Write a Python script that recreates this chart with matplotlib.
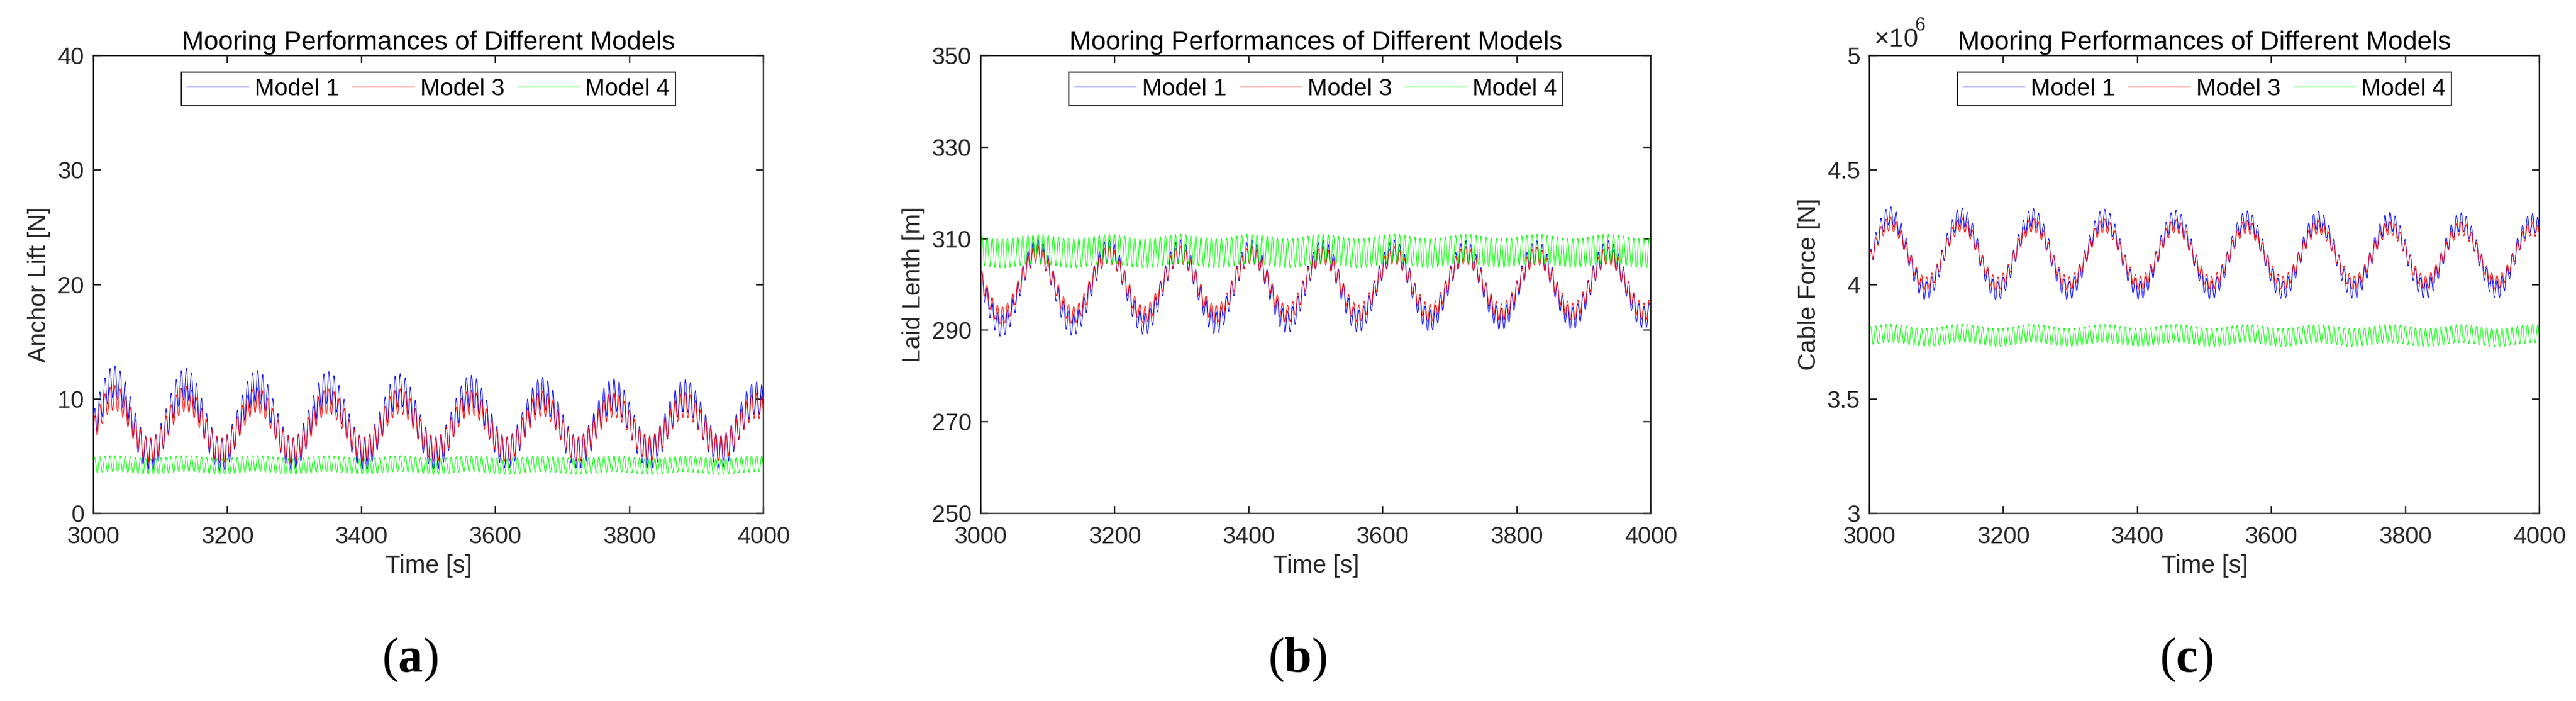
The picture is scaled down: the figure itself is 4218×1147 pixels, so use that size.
import numpy as np
import matplotlib.pyplot as plt
from matplotlib.ticker import FuncFormatter

plt.rcParams['font.family'] = ['Liberation Sans', 'DejaVu Sans']
plt.rcParams['mathtext.fontset'] = 'custom'
plt.rcParams['mathtext.bf'] = 'Liberation Serif:bold'

# ---- values ----
models = ['Model 1', 'Model 3', 'Model 4']
colors = ['#0000ff', '#ff0000', '#00ff00']

t_start, t_end = 3000, 4000
slow_period = 106.5          # s, long-period motion
first_peak = 3031.0          # s, first anchor-lift / cable-force crest
fast_period = 7.6            # s, wave-frequency oscillation

# (a) Anchor lift [N]: slow crests / troughs per cycle, fast amplitude
a_m1_peaks = [11.5, 11.3, 11.1, 11.0, 10.8, 10.7, 10.5, 10.4, 10.3, 10.1]
a_m1_troughs = [5.0, 5.1, 5.1, 5.2, 5.2, 5.2, 5.3, 5.3, 5.3, 5.4, 5.4]
a_m1_fast = 1.4
a_m3_peaks = [10.1, 10.0, 9.9, 9.8, 9.8, 9.7, 9.6, 9.5, 9.5, 9.4]
a_m3_troughs = [5.4, 5.5, 5.5, 5.5, 5.6, 5.6, 5.6, 5.6, 5.7, 5.7, 5.7]
a_m3_fast = 1.1
a_m4_peaks = [4.35, 4.35, 4.35, 4.34, 4.34, 4.34, 4.33, 4.33, 4.33, 4.33]
a_m4_troughs = [4.1, 4.1, 4.1, 4.1, 4.1, 4.1, 4.1, 4.1, 4.1, 4.1, 4.1]
a_m4_fast = 0.7

# (b) Laid length [m]: crests occur at anchor-lift troughs
b_m1_peaks = [307.5, 307.5, 307.4, 307.4, 307.3, 307.3, 307.3, 307.2, 307.2, 307.2, 307.1]
b_m1_troughs = [291.0, 291.2, 291.4, 291.6, 291.8, 292.0, 292.2, 292.4, 292.6, 292.8]
b_m1_fast = 2.4
b_m3_peaks = [306.6, 306.6, 306.5, 306.5, 306.5, 306.4, 306.4, 306.4, 306.3, 306.3, 306.3]
b_m3_troughs = [293.2, 293.3, 293.4, 293.5, 293.6, 293.7, 293.8, 293.9, 294.0, 294.1]
b_m3_fast = 1.9
b_m4_peaks = [307.8, 307.8, 307.8, 307.8, 307.8, 307.8, 307.8, 307.8, 307.8, 307.8, 307.8]
b_m4_troughs = [306.8, 306.8, 306.8, 306.8, 306.8, 306.8, 306.8, 306.8, 306.8, 306.8]
b_m4_fast = 3.2

# (c) Cable force [N]
c_m1_peaks = [4.300e6, 4.296e6, 4.292e6, 4.290e6, 4.286e6, 4.283e6, 4.280e6, 4.277e6, 4.274e6, 4.270e6]
c_m1_troughs = [3.975e6, 3.972e6, 3.972e6, 3.973e6, 3.974e6, 3.975e6, 3.976e6, 3.977e6, 3.978e6, 3.979e6, 3.980e6]
c_m1_fast = 0.040e6
c_m3_peaks = [4.265e6, 4.262e6, 4.259e6, 4.257e6, 4.255e6, 4.252e6, 4.250e6, 4.248e6, 4.246e6, 4.244e6]
c_m3_troughs = [4.005e6, 4.003e6, 4.003e6, 4.004e6, 4.005e6, 4.006e6, 4.007e6, 4.008e6, 4.009e6, 4.010e6, 4.010e6]
c_m3_fast = 0.030e6
c_m4_peaks = [3.787e6, 3.787e6, 3.786e6, 3.786e6, 3.786e6, 3.785e6, 3.785e6, 3.785e6, 3.785e6, 3.785e6]
c_m4_troughs = [3.768e6, 3.768e6, 3.768e6, 3.768e6, 3.768e6, 3.768e6, 3.768e6, 3.768e6, 3.768e6, 3.768e6, 3.768e6]
c_m4_fast = 0.040e6

titles = 'Mooring Performances of Different Models'
ylabels = ['Anchor Lift [N]', 'Laid Lenth [m]', 'Cable Force [N]']
yticks = [[0, 10, 20, 30, 40], [250, 270, 290, 310, 330, 350],
          [3e6, 3.5e6, 4e6, 4.5e6, 5e6]]
xticks = [3000, 3200, 3400, 3600, 3800, 4000]
panel_tags = ['a', 'b', 'c']

# ---- time series assembled from the read crest/trough values ----
t = np.arange(t_start, t_end + 0.25, 0.5)
n_cyc = len(a_m1_peaks)
t_ext = first_peak - slow_period / 2 + np.arange(2 * n_cyc + 1) * slow_period / 2


def interleave(lows, highs):
    out = []
    for i in range(len(lows) + len(highs)):
        out.append(lows[i // 2] if i % 2 == 0 else highs[i // 2])
    return np.array(out, dtype=float)


def series(ext_vals, fast_amp):
    idx = np.clip(np.searchsorted(t_ext, t) - 1, 0, len(t_ext) - 2)
    frac = (t - t_ext[idx]) / (t_ext[idx + 1] - t_ext[idx])
    v0, v1 = ext_vals[idx], ext_vals[idx + 1]
    slow = v0 + (v1 - v0) * (1 - np.cos(np.pi * frac)) / 2
    return slow + fast_amp * np.sin(2 * np.pi * (t - t_start) / fast_period)


data = [
    [series(interleave(a_m1_troughs, a_m1_peaks), a_m1_fast),
     series(interleave(a_m3_troughs, a_m3_peaks), a_m3_fast),
     series(interleave(a_m4_troughs, a_m4_peaks), a_m4_fast)],
    [series(interleave(b_m1_peaks, b_m1_troughs), b_m1_fast),
     series(interleave(b_m3_peaks, b_m3_troughs), b_m3_fast),
     series(interleave(b_m4_peaks, b_m4_troughs), b_m4_fast)],
    [series(interleave(c_m1_troughs, c_m1_peaks), c_m1_fast),
     series(interleave(c_m3_troughs, c_m3_peaks), c_m3_fast),
     series(interleave(c_m4_troughs, c_m4_peaks), c_m4_fast)],
]

# ---- figure ----
W, H = 4218, 1147
fig = plt.figure(figsize=(W / 100, H / 100), dpi=100)
axc = '#262626'
lefts = [153, 1606, 3061]
aw, ah, abot = 1097, 749, 840

for k in range(3):
    ax = fig.add_axes([lefts[k] / W, 1 - abot / H, aw / W, ah / H])
    for y, c, lab in zip(data[k], colors, models):
        ax.plot(t, y, color=c, lw=0.75, label=lab)
    ax.set_xlim(t_start, t_end)
    ax.set_ylim(yticks[k][0], yticks[k][-1])
    ax.set_xticks(xticks)
    ax.set_yticks(yticks[k])
    for s in ax.spines.values():
        s.set_linewidth(1.7)
        s.set_color(axc)
    ax.tick_params(direction='in', length=8.5, width=1.7, colors=axc,
                   labelsize=28, top=True, right=True)
    ax.tick_params(axis='x', pad=15)
    ax.tick_params(axis='y', pad=11)
    ax.set_xlabel('Time [s]', fontsize=29, color=axc, labelpad=7)
    ax.set_ylabel(ylabels[k], fontsize=29, color=axc, labelpad=8)
    ax.set_title(titles, fontsize=31, color='black', pad=7)
    if k == 2:
        ax.yaxis.set_major_formatter(FuncFormatter(lambda v, p: f'{v / 1e6:g}'))
        ax.text(0.006, 1.008, '×10', transform=ax.transAxes,
                fontsize=31, color=axc, ha='left', va='bottom')
        ax.text(0.068, 1.045, '6', transform=ax.transAxes,
                fontsize=22, color=axc, ha='left', va='bottom')
    leg = ax.legend(loc='upper center', bbox_to_anchor=(0.5, 0.964), ncol=3,
                    fontsize=28, frameon=True, fancybox=False, framealpha=1,
                    borderaxespad=0, handlelength=2.6, handletextpad=0.25,
                    columnspacing=0.55, borderpad=0.25)
    leg.get_frame().set_edgecolor(axc)
    leg.get_frame().set_linewidth(1.5)
    for h in leg.get_lines():
        h.set_linewidth(1.0)
    cx = (lefts[k] + aw / 2 - 30) / W
    fig.text(cx, 1 - 1080 / H, r'($\mathbf{' + panel_tags[k] + r'}$)',
             fontsize=58, family='Liberation Serif', ha='center', va='center')

fig.savefig('out.png', dpi=100)
